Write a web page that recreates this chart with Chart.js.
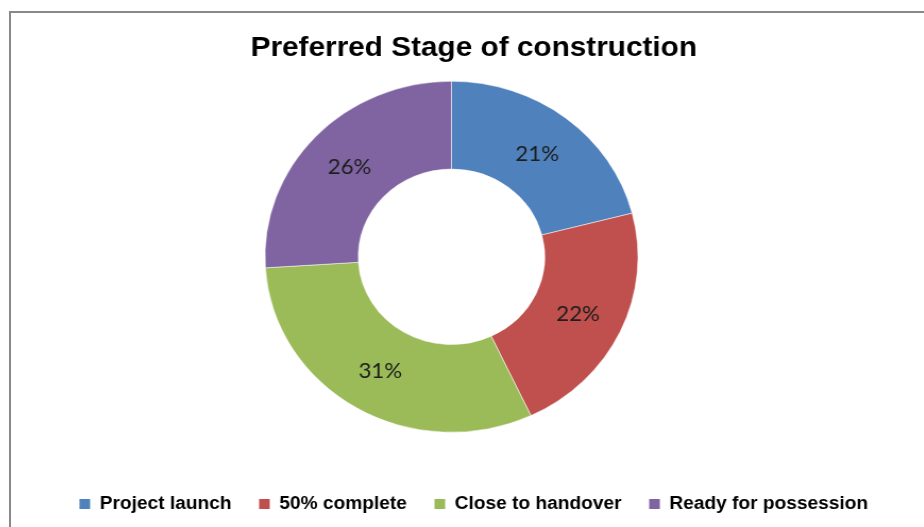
<!DOCTYPE html>
<html>
<head>
<meta charset="utf-8">
<script src="https://cdn.jsdelivr.net/npm/chart.js@4"></script>
<style>
  html, body { margin: 0; padding: 0; background: #fff; overflow: hidden; width: 924px; height: 527px; }
  #frame { position: absolute; left: 9px; top: 11px; width: 1000px; height: 600px;
           border-left: 2px solid #898989; border-top: 2px solid #898989; }
  /* the source picture is stretched sideways a little, so is ours */
  #chart { position: absolute; left: 0; top: 0; transform: scaleX(1.0627); transform-origin: 0 0; }
</style>
</head>
<body>
<div id="frame"><canvas id="chart" width="871" height="514"></canvas></div>
<script>
const stages = ['Project launch', '50% complete', 'Close to handover', 'Ready for possession'];
const shares = [21, 22, 31, 26];
const sliceColors = ['#4F81BD', '#C0504D', '#9BBB59', '#8064A2'];

// Excel put the plot area a bit left and up of the middle
const plotOffset = { id: 'plotOffset', afterLayout(chart) {
    const a = chart.chartArea;
    a.left -= 21; a.right -= 21;
    a.top -= 14.5; a.bottom -= 14.5;
}};

// percent labels in the middle of each ring slice
const sliceLabels = { id: 'sliceLabels', afterDatasetsDraw(chart) {
    const ctx = chart.ctx;
    const meta = chart.getDatasetMeta(0);
    ctx.save();
    ctx.font = '21px Lato';
    ctx.fillStyle = '#1e1e1e';
    ctx.textAlign = 'center';
    ctx.textBaseline = 'middle';
    meta.data.forEach((arc, i) => {
        const p = arc.getCenterPoint();
        ctx.fillText(shares[i] + '%', p.x, p.y + 1);
    });
    ctx.restore();
}};

new Chart(document.getElementById('chart'), {
    type: 'doughnut',
    data: {
        labels: stages,
        datasets: [{ data: shares, backgroundColor: sliceColors,
                     borderColor: 'rgba(255,255,255,0.5)', borderWidth: 1,
                     radius: 175.5, cutout: '50%' }]
    },
    options: {
        responsive: false,
        maintainAspectRatio: false,
        devicePixelRatio: 1,
        animation: false,
        layout: { padding: { bottom: 4 } },
        plugins: {
            title: { display: true, text: 'Preferred Stage of construction', color: '#000',
                     font: { family: 'Liberation Sans', size: 28, weight: 'bold' },
                     padding: { top: 18.5, bottom: 8.5 } },
            legend: { position: 'bottom',
                      labels: { color: '#000', boxWidth: 10, boxHeight: 10, padding: 26,
                                font: { family: 'Liberation Sans', size: 18, weight: 'bold' },
                                generateLabels: (chart) => Chart.overrides.doughnut.plugins.legend.labels
                                    .generateLabels(chart).map(l => ({ ...l, lineWidth: 0 })) } },
            tooltip: { enabled: false }
        }
    },
    plugins: [plotOffset, sliceLabels]
});
</script>
</body>
</html>
